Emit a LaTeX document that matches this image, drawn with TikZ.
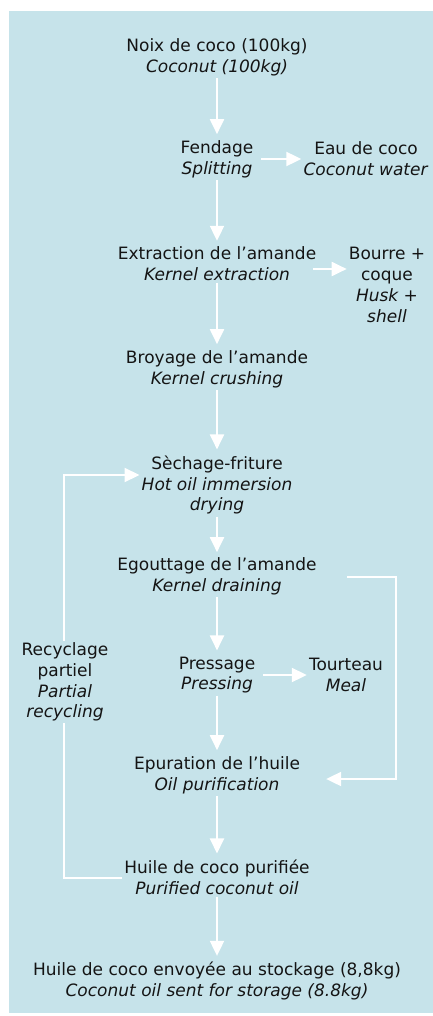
\documentclass[tikz,border=0pt]{standalone}
\usepackage{fontspec}
\setmainfont{DejaVu Sans}
\usetikzlibrary{arrows.meta}
\definecolor{panel}{HTML}{C6E3EA}
\definecolor{ink}{HTML}{141414}

\begin{document}
\begin{tikzpicture}[x=1pt,y=-1pt,
  stage/.style={align=center,inner sep=2pt,text=ink,
    font=\fontsize{17}{20.8}\selectfont},
  flow/.style={draw=white,line width=2pt,
    -{Triangle[length=15pt,width=14pt]}}]
\useasboundingbox (0,0) rectangle (433,1016);
\fill[panel] (9,11) rectangle (433,1013);
% main chain
\node[stage] (nut) at (217,57) {Noix de coco (100kg)\\\textit{Coconut (100kg)}};
\node[stage] (split) at (217,159) {Fendage\\\textit{Splitting}};
\node[stage] (water) at (366,159) {Eau de coco\\\textit{Coconut water}};
\node[stage] (extract) at (217,264) {Extraction de l'amande\\\textit{Kernel extraction}};
\node[stage] (husk) at (387,285) {Bourre +\\coque\\\textit{Husk +}\\\textit{shell}};
\node[stage] (crush) at (217,369) {Broyage de l'amande\\\textit{Kernel crushing}};
\node[stage] (dry) at (217,485) {S\`echage-friture\\\textit{Hot oil immersion}\\\textit{drying}};
\node[stage] (drain) at (217,576) {Egouttage de l'amande\\\textit{Kernel draining}};
\node[stage] (press) at (217,675) {Pressage\\\textit{Pressing}};
\node[stage] (meal) at (346,675) {Tourteau\\\textit{Meal}};
\node[stage] (purif) at (217,775) {Epuration de l'huile\\\textit{Oil purification}};
\node[stage] (pure) at (217,877) {Huile de coco purifi\'ee\\\textit{Purified coconut oil}};
\node[stage] (store) at (217,981) {Huile de coco envoy\'ee au stockage (8,8kg)\\\textit{Coconut oil sent for storage (8.8kg)}};
% loops
\coordinate (lowleft) at (64,878);
\coordinate (upleft) at (64,475);
\coordinate (upright) at (396,577);
\coordinate (lowright) at (396,779);
\draw[flow,shorten >=4pt] (nut) -- (split);
\draw[flow,shorten >=4pt] (split) -- (extract);
\draw[flow,shorten >=4pt] (extract) -- (crush);
\draw[flow,shorten >=4pt] (crush) -- (dry);
\draw[flow,shorten >=3pt] (dry) -- (drain);
\draw[flow,shorten >=4pt] (drain) -- (press);
\draw[flow,shorten >=4pt] (press) -- (purif);
\draw[flow,shorten >=4pt] (purif) -- (pure);
\draw[flow,shorten >=4pt] (pure) -- (store);
\draw[flow,shorten <=6pt] (split) -- (water);
\draw[flow,shorten <=-5pt] ([yshift=-5pt]extract.east) -- ([yshift=-5pt]extract.east -| husk.west);
\draw[flow,shorten <=6pt] (press) -- (meal);
\draw[flow] (pure.west |- lowleft) -- (lowleft) -- (upleft) -- (upleft -| dry.west);
\draw[flow,shorten <=28pt,shorten >=24pt] (drain.east |- upright) -- (upright) -- (lowright) -- (lowright -| purif.east);
\node[stage,fill=panel] (recycle) at (65,682) {Recyclage\\partiel\\\textit{Partial}\\\textit{recycling}};
\end{tikzpicture}
\end{document}
